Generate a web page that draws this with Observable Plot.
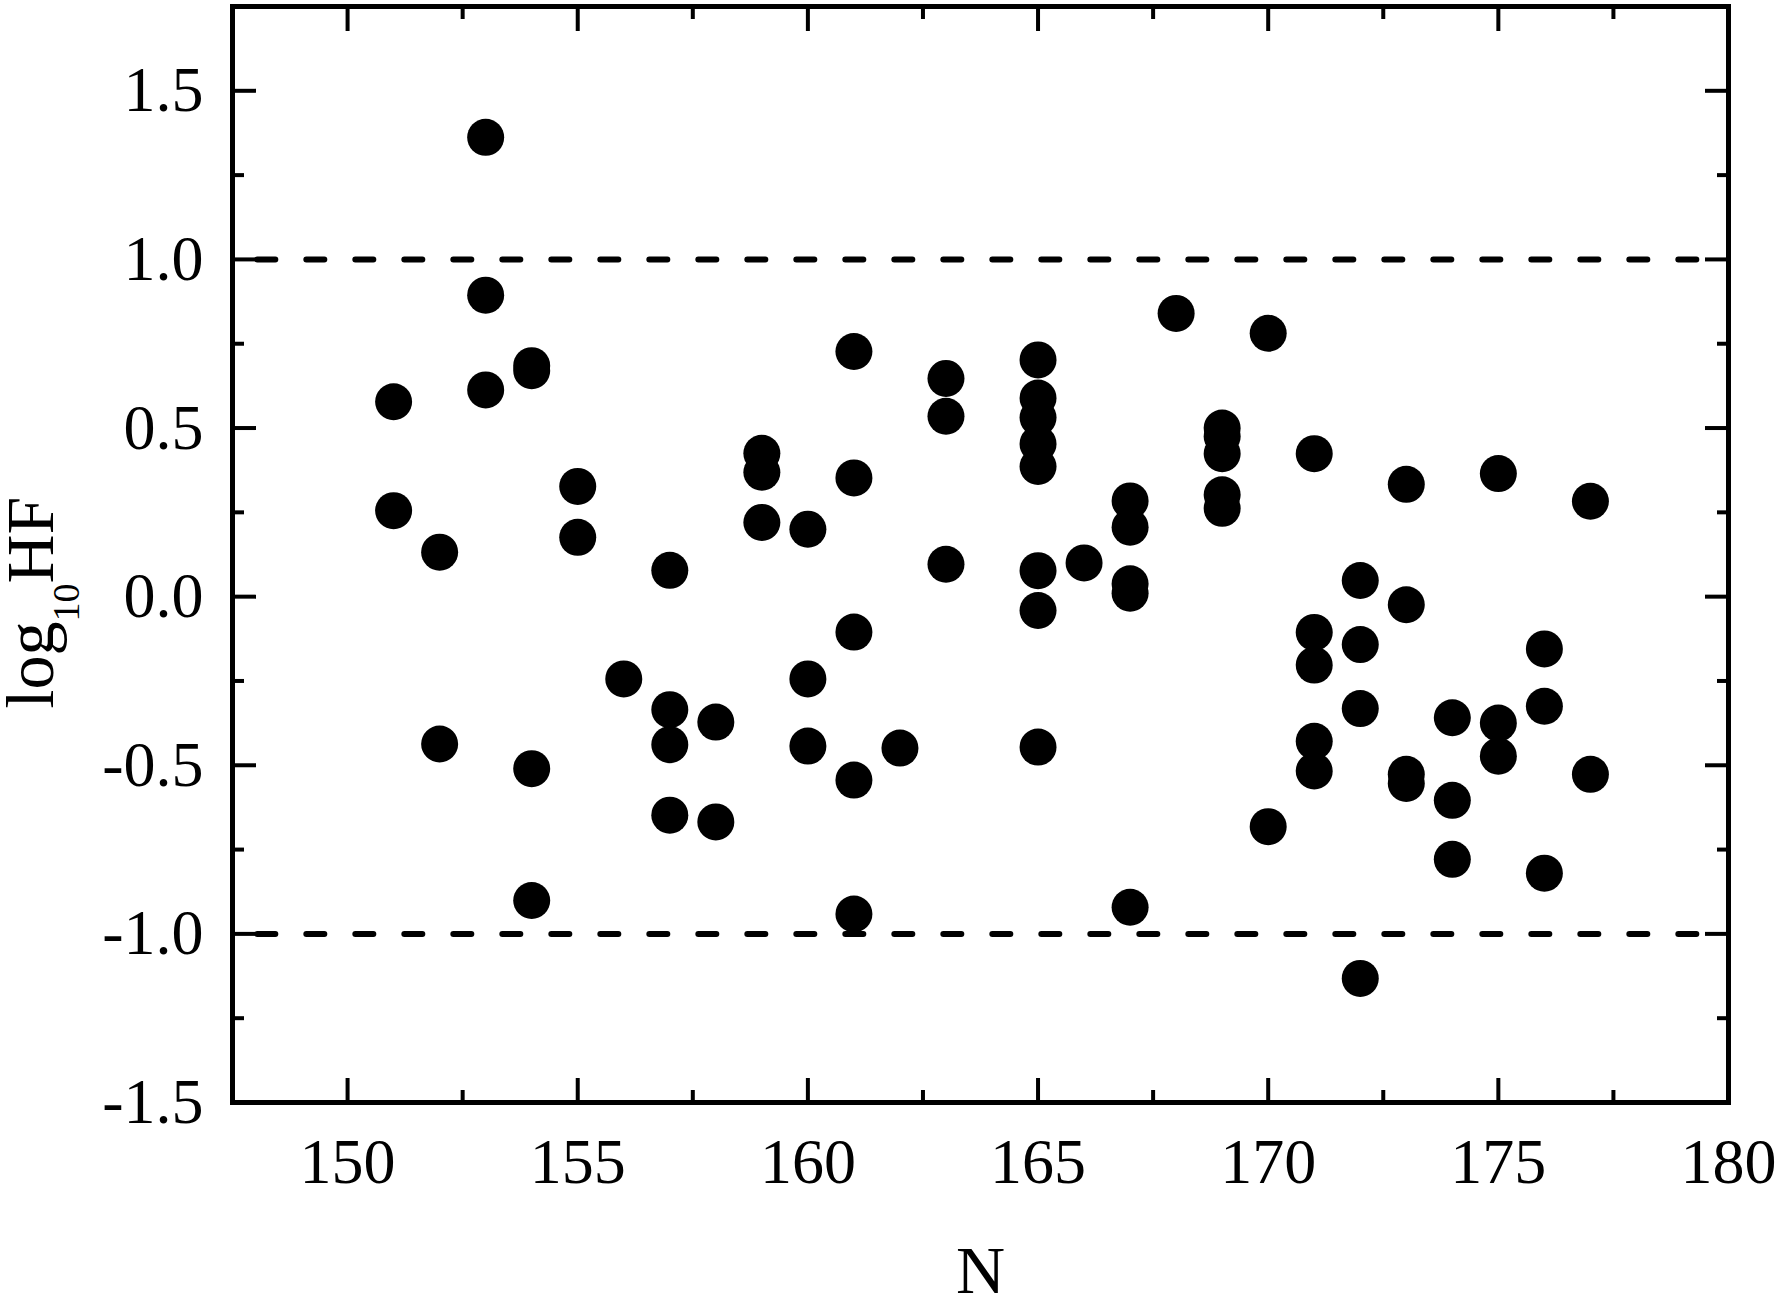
<!DOCTYPE html>
<html>
<head>
<meta charset="utf-8">
<script src="https://cdn.jsdelivr.net/npm/d3@7"></script>
<script src="https://cdn.jsdelivr.net/npm/@observablehq/plot@0.6"></script>
<style>
  body { margin: 0; background: #fff; }
  #chart svg { display: block; }
</style>
</head>
<body>
<div id="chart"></div>
<script>
// Neutron number N for each point
const N = [
  151, 151,
  152, 152,
  153, 153, 153,
  154, 154, 154, 154,
  155, 155,
  156,
  157, 157, 157, 157,
  158, 158,
  159, 159, 159,
  160, 160, 160,
  161, 161, 161, 161, 161,
  162,
  163, 163, 163,
  165, 165, 165, 165, 165, 165, 165, 165,
  166,
  167, 167, 167, 167, 167,
  168,
  169, 169, 169, 169, 169,
  170, 170,
  171, 171, 171, 171, 171,
  172, 172, 172, 172,
  173, 173, 173, 173,
  174, 174, 174,
  175, 175, 175,
  176, 176, 176,
  177, 177
];
// log10 HF for each point (same order as N)
const log10HF = [
  0.578, 0.255,
  0.132, -0.437,
  1.362, 0.894, 0.613,
  0.685, 0.670, -0.510, -0.901,
  0.327, 0.176,
  -0.244,
  0.078, -0.335, -0.439, -0.648,
  -0.372, -0.668,
  0.425, 0.369, 0.220,
  0.200, -0.244, -0.443,
  0.727, 0.352, -0.105, -0.544, -0.941,
  -0.449,
  0.647, 0.535, 0.096,
  0.702, 0.589, 0.531, 0.453, 0.386, 0.077, -0.041, -0.446,
  0.100,
  0.284, 0.206, 0.038, 0.010, -0.921,
  0.840,
  0.500, 0.475, 0.424, 0.302, 0.262,
  0.781, -0.682,
  0.424, -0.106, -0.203, -0.429, -0.517,
  0.048, -0.142, -0.332, -1.132,
  0.333, -0.024, -0.527, -0.554,
  -0.359, -0.604, -0.779,
  0.365, -0.375, -0.473,
  -0.155, -0.325, -0.820,
  0.283, -0.527
];
const xMajorTicks = [150, 155, 160, 165, 170, 175, 180];
const xMinorTicks = [152.5, 157.5, 162.5, 167.5, 172.5, 177.5];
const yMajorTicks = [-1.5, -1.0, -0.5, 0.0, 0.5, 1.0, 1.5];
const yMinorTicks = [-1.25, -0.75, -0.25, 0.25, 0.75, 1.25];
const thresholds = [1, -1];
const xTitle = "N";
const yTitleParts = ["log", "10", "HF"];

const points = N.map((n, i) => ({n, v: log10HF[i]}));
const FONT = "'Liberation Serif', 'Times New Roman', serif";

const majorLen = 24, minorLen = 12, tickW = 4;
const tickAxes = [];
for (const a of ["bottom", "top"]) {
  tickAxes.push(Plot.axisX({anchor: a, ticks: xMajorTicks, tickSize: -majorLen, fill: "none", strokeWidth: tickW, label: null}));
  tickAxes.push(Plot.axisX({anchor: a, ticks: xMinorTicks, tickSize: -minorLen, fill: "none", strokeWidth: tickW, label: null}));
}
for (const a of ["left", "right"]) {
  tickAxes.push(Plot.axisY({anchor: a, ticks: yMajorTicks, tickSize: -majorLen, fill: "none", strokeWidth: tickW, label: null}));
  tickAxes.push(Plot.axisY({anchor: a, ticks: yMinorTicks, tickSize: -minorLen, fill: "none", strokeWidth: tickW, label: null}));
}

const chart = Plot.plot({
  width: 1782,
  height: 1296,
  marginLeft: 232,
  marginRight: 54,
  marginTop: 6,
  marginBottom: 194,
  style: {fontFamily: FONT, background: "#fff", color: "#000"},
  x: {domain: [147.5, 180]},
  y: {domain: [-1.5, 1.75]},
  marks: [
    Plot.ruleY(thresholds, {x1: 148.05, x2: 179.8, stroke: "#000", strokeWidth: 6, strokeDasharray: "18,31", strokeLinecap: "round"}),
    Plot.dot(points, {x: "n", y: "v", r: 18.5, fill: "#000", stroke: "none"}),
    ...tickAxes,
    Plot.axisX({anchor: "bottom", ticks: xMajorTicks, tickSize: 0, tickPadding: 35, tickFormat: d => String(d), fontSize: 64, label: null}),
    Plot.axisY({anchor: "left", ticks: yMajorTicks, tickSize: 0, tickPadding: 29, tickFormat: d => d.toFixed(1), fontSize: 64, label: null}),
    Plot.text([xTitle], {text: d => d, frameAnchor: "bottom", dy: 190, lineAnchor: "bottom", textAnchor: "middle", fontSize: 68}),
    Plot.text([yTitleParts.join("")], {text: d => d, frameAnchor: "left", rotate: -90, dx: -180, dy: 48, lineAnchor: "bottom", textAnchor: "middle", fontSize: 68}),
    Plot.frame({stroke: "#000", strokeWidth: 5})
  ]
});

// Turn the y title into log with subscript 10
const full = yTitleParts.join("");
for (const t of chart.querySelectorAll("text")) {
  if (t.textContent === full) {
    t.textContent = "";
    const ns = "http://www.w3.org/2000/svg";
    const a = document.createElementNS(ns, "tspan");
    a.textContent = yTitleParts[0];
    const b = document.createElementNS(ns, "tspan");
    b.textContent = yTitleParts[1];
    b.setAttribute("font-size", "38");
    b.setAttribute("dy", "26");
    const c = document.createElementNS(ns, "tspan");
    c.textContent = yTitleParts[2];
    c.setAttribute("dy", "-26");
    t.append(a, b, c);
  }
}
document.getElementById("chart").append(chart);
</script>
</body>
</html>
